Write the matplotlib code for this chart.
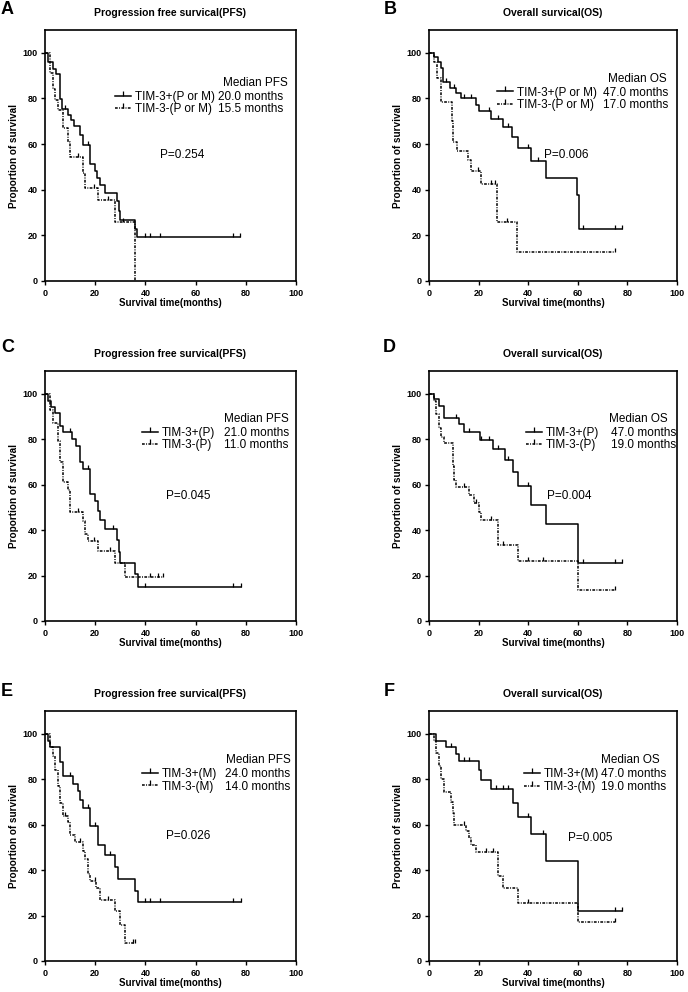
import matplotlib

matplotlib.use("Agg")
import matplotlib.pyplot as plt
import numpy as np
from matplotlib.lines import Line2D

plt.rcParams["font.family"] = ["Liberation Sans", "DejaVu Sans"]

# Kaplan-Meier curves:
# *_t = event times (months), *_s = survival (%) after each event, *_c = censor times
a_pos_t = [1.3, 3.3, 4.4, 5.8, 6.8, 9.3, 10.5, 11.6, 14, 15, 18, 20, 20.6, 22, 24, 28.6, 29.3, 30, 35.8, 36.6]
a_pos_s = [95.9, 93.1, 90.6, 79.9, 75.2, 72.6, 70.6, 68, 64, 59.7, 51.2, 48, 45, 42, 38.6, 34.9, 30.8, 26.7, 23, 19.4]
a_pos_c = [8, 17, 40, 42, 46, 75, 77.5]
a_neg_t = [2, 3, 4, 5, 7, 9, 10, 15, 16, 21, 28, 36]
a_neg_s = [91, 84, 79.5, 75, 67, 61, 54.5, 47.2, 40.6, 35.5, 26, 0]
a_neg_c = [13, 19.5, 25, 31]

b_pos_t = [1.9, 3.5, 4.8, 5.8, 8.6, 11, 12.9, 19, 20, 25, 29.8, 33.6, 36, 41, 47, 59.5, 60.3]
b_pos_s = [98, 96, 93.5, 87, 84.6, 82.6, 80, 77, 74.5, 71, 67.5, 63, 58.5, 52.5, 45, 37.5, 22.6]
b_pos_c = [7, 10, 14, 17, 24, 28, 32, 40, 44, 62, 75, 78]
b_neg_t = [2, 3.1, 4.7, 9.1, 9.6, 11.1, 15.8, 16.9, 20.8, 27.6, 35.6]
b_neg_s = [96, 89, 78.6, 70, 61, 56.9, 53, 48, 42.5, 25.7, 12.9]
b_neg_c = [19.7, 25, 26.5, 31.5, 75]

c_pos_t = [1.3, 2.3, 4, 6, 7, 10.6, 12.4, 14, 15, 18, 20, 21, 22, 24, 28.6, 29.3, 30, 36, 37]
c_pos_s = [97, 94.3, 91.5, 86, 83, 80, 77, 70, 66.8, 56, 53, 48.5, 44.5, 40.5, 35.5, 30.5, 25.5, 20.5, 15]
c_pos_c = [10, 17, 27, 40, 75, 78]
c_neg_t = [2, 3, 5, 6, 7, 9, 10, 15, 16, 17, 21, 28, 32]
c_neg_s = [93, 87, 79, 70, 61, 57.5, 48, 44, 38.5, 35, 31, 25.5, 19.5]
c_neg_c = [13, 19.5, 26, 42, 45, 47]

d_pos_t = [2, 4, 6, 12, 14, 20.5, 26, 30.6, 34, 36, 41, 47, 60]
d_pos_s = [97.5, 94.5, 89.2, 86.5, 83, 79.8, 75.6, 70.8, 65.5, 59.5, 51, 42.5, 25.5]
d_pos_c = [11, 16, 21, 24, 28, 32, 40, 62, 75, 78]
d_neg_t = [2, 3, 4, 5, 6, 9.5, 10, 11, 16, 18, 20, 21, 28, 36, 60]
d_neg_s = [97, 91, 85, 81, 78.5, 68, 62, 59, 55.5, 52, 48, 44.5, 33.5, 26.5, 13.5]
d_neg_c = [14, 19, 25, 30, 40, 46, 75]

e_pos_t = [1, 2, 6, 7, 11, 13, 14, 15, 18, 21, 24, 28, 29, 36, 37]
e_pos_s = [97, 94, 87.5, 81.3, 78, 75, 71, 67.3, 59.3, 51, 46.8, 41.5, 36.2, 31, 26]
e_pos_c = [10, 17, 20, 26, 40, 42, 46, 75, 78]
e_neg_t = [2, 3, 4, 5, 6, 7, 9, 10, 12, 15, 16, 17, 18, 20.5, 22, 28, 30, 32]
e_neg_s = [94, 90, 84, 77, 69.5, 64, 61, 55.5, 52.5, 48.5, 45, 38.5, 35, 32, 27, 22, 16, 8]
e_neg_c = [8, 14, 20, 25, 35, 36]

f_pos_t = [3, 7, 11, 12, 20, 21, 25, 34, 36, 41, 47, 60]
f_pos_s = [97, 94, 91, 88, 84, 79.8, 75.8, 69.7, 63.5, 55.7, 44.2, 22.2]
f_pos_c = [9, 14, 16, 27, 30, 32, 40, 46, 75, 78]
f_neg_t = [2, 3, 4, 5, 6, 9, 9.5, 10, 15, 16, 17, 19, 28, 30, 36, 60]
f_neg_s = [97, 91.5, 86, 80, 74.5, 70, 65, 60, 57, 54, 51, 48, 37.5, 32, 25.7, 17]
f_neg_c = [14, 23, 26, 40, 75]

panel_letters = ["A", "B", "C", "D", "E", "F"]
panel_titles = ["Progression free survical(PFS)", "Overall survical(OS)"] * 3
groups = [
    ("TIM-3+(P or M)", "TIM-3-(P or M)"),
    ("TIM-3+(P or M)", "TIM-3-(P or M)"),
    ("TIM-3+(P)", "TIM-3-(P)"),
    ("TIM-3+(P)", "TIM-3-(P)"),
    ("TIM-3+(M)", "TIM-3-(M)"),
    ("TIM-3+(M)", "TIM-3-(M)"),
]
median_pos = ["20.0", "47.0", "21.0", "47.0", "24.0", "47.0"]
median_neg = ["15.5", "17.0", "11.0", "19.0", "14.0", "19.0"]
p_values = ["0.254", "0.006", "0.045", "0.004", "0.026", "0.005"]

curves = [
    (a_pos_t, a_pos_s, a_pos_c, a_neg_t, a_neg_s, a_neg_c),
    (b_pos_t, b_pos_s, b_pos_c, b_neg_t, b_neg_s, b_neg_c),
    (c_pos_t, c_pos_s, c_pos_c, c_neg_t, c_neg_s, c_neg_c),
    (d_pos_t, d_pos_s, d_pos_c, d_neg_t, d_neg_s, d_neg_c),
    (e_pos_t, e_pos_s, e_pos_c, e_neg_t, e_neg_s, e_neg_c),
    (f_pos_t, f_pos_s, f_pos_c, f_neg_t, f_neg_s, f_neg_c),
]

# layout (data coords): legend anchor, months column x, header x, P text position
legend_xy = [(28, 78.0), (27.5, 79.8), (38.6, 80.0), (39, 80.0), (38.6, 79.5), (38.3, 79.4)]
months_x = [69.0, 70.0, 71.3, 73.3, 71.6, 69.4]
header_x = [70.8, 72.0, 71.3, 72.6, 72.0, 69.4]
p_xy = [(46, 55.4), (46.4, 55.4), (48.1, 55.1), (47.4, 55), (48.1, 55), (56, 54)]

W, H = 688, 992
col_px = [(45, 251), (429, 248)]
row_px = [(30, 281), (371, 621), (711, 961)]
letter_px = [(1, 1), (384, 1), (1, 339), (383, 339), (1, 683), (384, 683)]

DASH = (0, (1.8, 0.9, 0.6, 0.9))
FS = 8.5
TICKUP = 2


def km_curve(ax, times, surv, cens, ls):
    times = np.asarray(times, dtype=float)
    surv = np.asarray(surv, dtype=float)
    end = max(times[-1], max(cens))
    ax.step(np.r_[0, times, end], np.r_[100, surv, surv[-1]], where="post",
            color="black", lw=1.1, ls=ls)
    levels = np.r_[100, surv]
    cy = levels[np.searchsorted(times, cens, side="right")]
    ax.plot(cens, cy, ls="none", marker=TICKUP, ms=3.2, mew=0.9, color="black")


fig = plt.figure(figsize=(W / 100, H / 100), dpi=100)
axes = []
for i in range(6):
    r, c = divmod(i, 2)
    x0, w = col_px[c]
    top, bot = row_px[r]
    ax = fig.add_axes([x0 / W, 1 - bot / H, w / W, (bot - top) / H])
    axes.append(ax)

    pt, ps, pc, nt, ns, nc = curves[i]
    km_curve(ax, pt, ps, pc, "-")
    km_curve(ax, nt, ns, nc, DASH)

    ax.set_xlim(0, 100)
    ax.set_ylim(0, 110)
    ax.set_xticks(np.arange(0, 101, 20))
    ax.set_yticks(np.arange(0, 101, 20))
    ax.tick_params(direction="out", length=3, width=1, labelsize=6.5, pad=2.5)
    for lab in ax.get_xticklabels() + ax.get_yticklabels():
        lab.set_fontweight("bold")
    for sp in ax.spines.values():
        sp.set_linewidth(1.2)

    ax.set_title(panel_titles[i], fontsize=7.5, fontweight="bold", pad=10)
    ax.set_xlabel("Survival time(months)", fontsize=7, fontweight="bold")
    ax.set_ylabel("Proportion of survival", fontsize=7.2, fontweight="bold")
    ax.xaxis.set_label_coords(0.5, -0.068)
    ax.yaxis.set_label_coords(-0.105, 0.5)

    handles = [
        Line2D([], [], color="black", lw=1.1, marker=TICKUP, ms=3.5, mew=0.9),
        Line2D([], [], color="black", lw=1.1, ls=DASH, marker=TICKUP, ms=3.5, mew=0.9),
    ]
    ax.legend(handles, list(groups[i]), loc="center left",
              bbox_to_anchor=legend_xy[i], bbox_transform=ax.transData,
              frameon=False, fontsize=FS, handlelength=1.35, handletextpad=0.35,
              labelspacing=0.05, borderpad=0, borderaxespad=0)

    ax.text(p_xy[i][0], p_xy[i][1], "P=" + p_values[i], fontsize=FS, va="center")

    lx, ly = letter_px[i]
    fig.text(lx / W, 1 - ly / H, panel_letters[i], fontsize=13, fontweight="bold",
             ha="left", va="top")

fig.canvas.draw()
for i, ax in enumerate(axes):
    leg = ax.get_legend()
    inv = ax.transData.inverted()
    ys = []
    for t in leg.get_texts():
        bb = t.get_window_extent()
        ys.append(inv.transform((0, (bb.y0 + bb.y1) / 2))[1])
    kind = "PFS" if i % 2 == 0 else "OS"
    ax.text(months_x[i], ys[0], median_pos[i] + " months", fontsize=FS, va="center")
    ax.text(months_x[i], ys[1], median_neg[i] + " months", fontsize=FS, va="center")
    ax.text(header_x[i], ys[0] + (ys[0] - ys[1]) * 1.1, "Median " + kind,
            fontsize=FS, va="center")

fig.savefig("out.png", dpi=100)
